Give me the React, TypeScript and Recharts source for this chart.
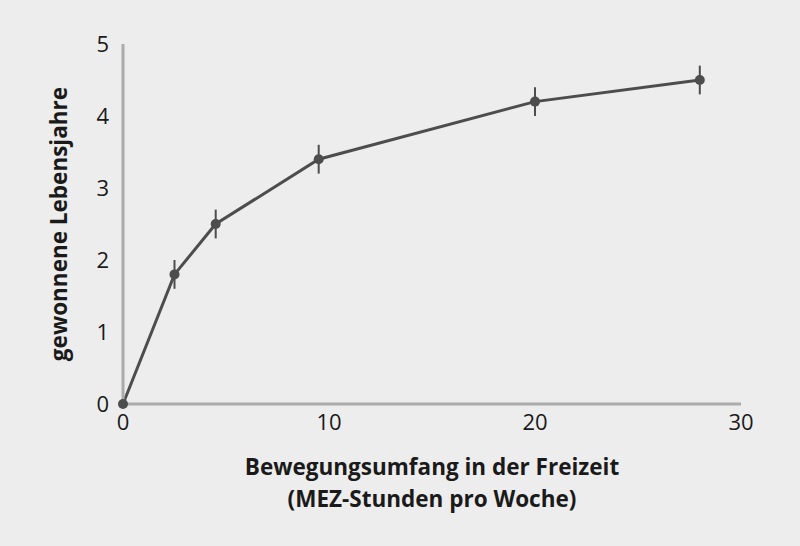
import React from 'react';
import { LineChart, Line, XAxis, YAxis, ErrorBar, Label } from 'recharts';

const hours = [0, 2.5, 4.5, 9.5, 20, 28];
const yearsGained = [0, 1.8, 2.5, 3.4, 4.2, 4.5];
const errors = [0, 0.2, 0.2, 0.2, 0.2, 0.2];
const xTicks = [0, 10, 20, 30];
const yTicks = [0, 1, 2, 3, 4, 5];

const data = hours.map((h, i) => ({ x: h, y: yearsGained[i], err: errors[i] }));

const FONT = '"Open Sans", "Noto Sans", sans-serif';
const LINE = '#4d4d4d';
const AXIS = '#ababab';

// two-line axis title, centred under the plot
const XTitle = (props: any) => {
  const { viewBox } = props;
  const cx = viewBox.x + viewBox.width / 2;
  return (
    <g fontFamily={FONT} fontSize={22.5} fontWeight="bold" fill="#1a1a1a">
      <text x={cx} y={viewBox.y + 71} textAnchor="middle">Bewegungsumfang in der Freizeit</text>
      <text x={cx} y={viewBox.y + 103} textAnchor="middle">(MEZ-Stunden pro Woche)</text>
    </g>
  );
};

export default function App() {
  return (
    <div style={{ position: 'absolute', left: 0, top: 0, width: 800, height: 546, background: '#ededed' }}>
      <LineChart width={800} height={546} data={data} margin={{ top: 44, right: 59, left: 63, bottom: 0 }}>
        <XAxis
          dataKey="x"
          type="number"
          domain={[0, 30]}
          ticks={xTicks}
          tickLine={false}
          tickSize={0}
          tickMargin={10}
          axisLine={{ stroke: AXIS, strokeWidth: 3 }}
          tick={{ fontFamily: FONT, fontSize: 22, fill: '#1a1a1a' }}
          height={142}
        >
          <Label content={<XTitle />} />
        </XAxis>
        <YAxis
          type="number"
          domain={[0, 5]}
          ticks={yTicks}
          tickLine={false}
          tickSize={0}
          tickMargin={14}
          axisLine={{ stroke: AXIS, strokeWidth: 3 }}
          tick={{ fontFamily: FONT, fontSize: 22, fill: '#1a1a1a' }}
          width={60}
        >
          <Label
            value="gewonnene Lebensjahre"
            angle={-90}
            position="insideLeft"
            offset={0}
            dx={-4}
            style={{ fontFamily: FONT, fontSize: 22.5, fontWeight: 'bold', fill: '#1a1a1a', textAnchor: 'middle' }}
          />
        </YAxis>
        <Line
          type="linear"
          dataKey="y"
          stroke={LINE}
          strokeWidth={3}
          dot={{ r: 5, fill: LINE, stroke: LINE, strokeWidth: 0 }}
          activeDot={false}
          isAnimationActive={false}
        >
          <ErrorBar dataKey="err" width={0} stroke={LINE} strokeWidth={2} direction="y" />
        </Line>
      </LineChart>
    </div>
  );
}
